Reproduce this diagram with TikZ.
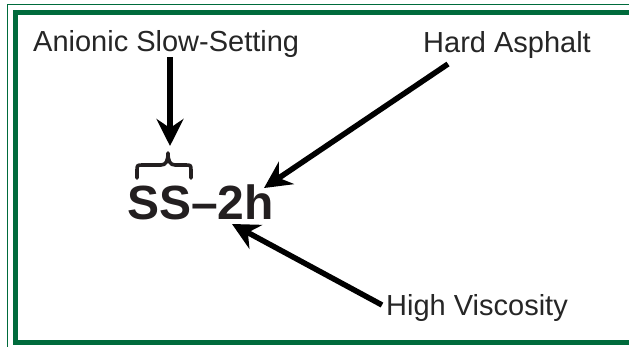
\documentclass[tikz,border=0pt]{standalone}
\usepackage{fontspec}
\setmainfont{Liberation Sans}
\usetikzlibrary{arrows.meta}
\definecolor{framegreen}{HTML}{006B3C}
\definecolor{labelink}{HTML}{262626}
\definecolor{codeink}{HTML}{231F20}
\begin{document}
\begin{tikzpicture}[x=1pt,y=-1pt,
  lbl/.style={inner sep=0pt, anchor=base west, text=labelink,
    font=\fontsize{29}{35}\selectfont},
  codetext/.style={inner sep=0pt, anchor=base west, text=codeink,
    font=\fontsize{48}{56}\selectfont\bfseries},
  pointer/.style={line width=5.5pt, draw=black,
    -{Stealth[length=27pt,width=27pt,inset=9pt]}},
  bracestroke/.style={line width=3.6pt, draw=codeink, line cap=round, line join=round}]
  \useasboundingbox (0,0) rectangle (629,347);
  \fill[white] (0,0) rectangle (629,347);

  % double green frame, open on the right
  \draw[framegreen, line width=1.5pt] (640,4.5) -- (7.5,4.5) -- (7.5,360);
  \draw[framegreen, line width=5pt] (640,12.5) -- (15,12.5) -- (15,342) -- (640,342);

  % labels
  \node[lbl] (anionic) at (33,52) {Anionic Slow-Setting};
  \node[lbl] (hard) at (423,53) {Hard Asphalt};
  \node[lbl] (visc) at (386,316) {High Viscosity};
  \node[codetext] (code) at (127,220) {SS–2h};

  % connector ends
  \coordinate (anionicTail) at (170,57);
  \coordinate (anionicTip) at (170,146);
  \coordinate (hardTail) at (448,64);
  \coordinate (hardTip) at (264,188);
  \coordinate (viscTail) at (382,305);
  \coordinate (viscTip) at (232,224);

  \draw[pointer] (anionicTail) -- (anionicTip);
  \draw[pointer] (hardTail) -- (hardTip);
  \draw[pointer] (viscTail) -- (viscTip);

  % brace over "SS"
  \draw[bracestroke] (137,178) -- (137,171)
    .. controls (137,165) .. (143,165) -- (161,165)
    .. controls (166,165) and (168,161) .. (168,153)
    .. controls (168,161) and (170,165) .. (175,165) -- (185,165)
    .. controls (191,165) .. (191,171) -- (191,178);
\end{tikzpicture}
\end{document}
